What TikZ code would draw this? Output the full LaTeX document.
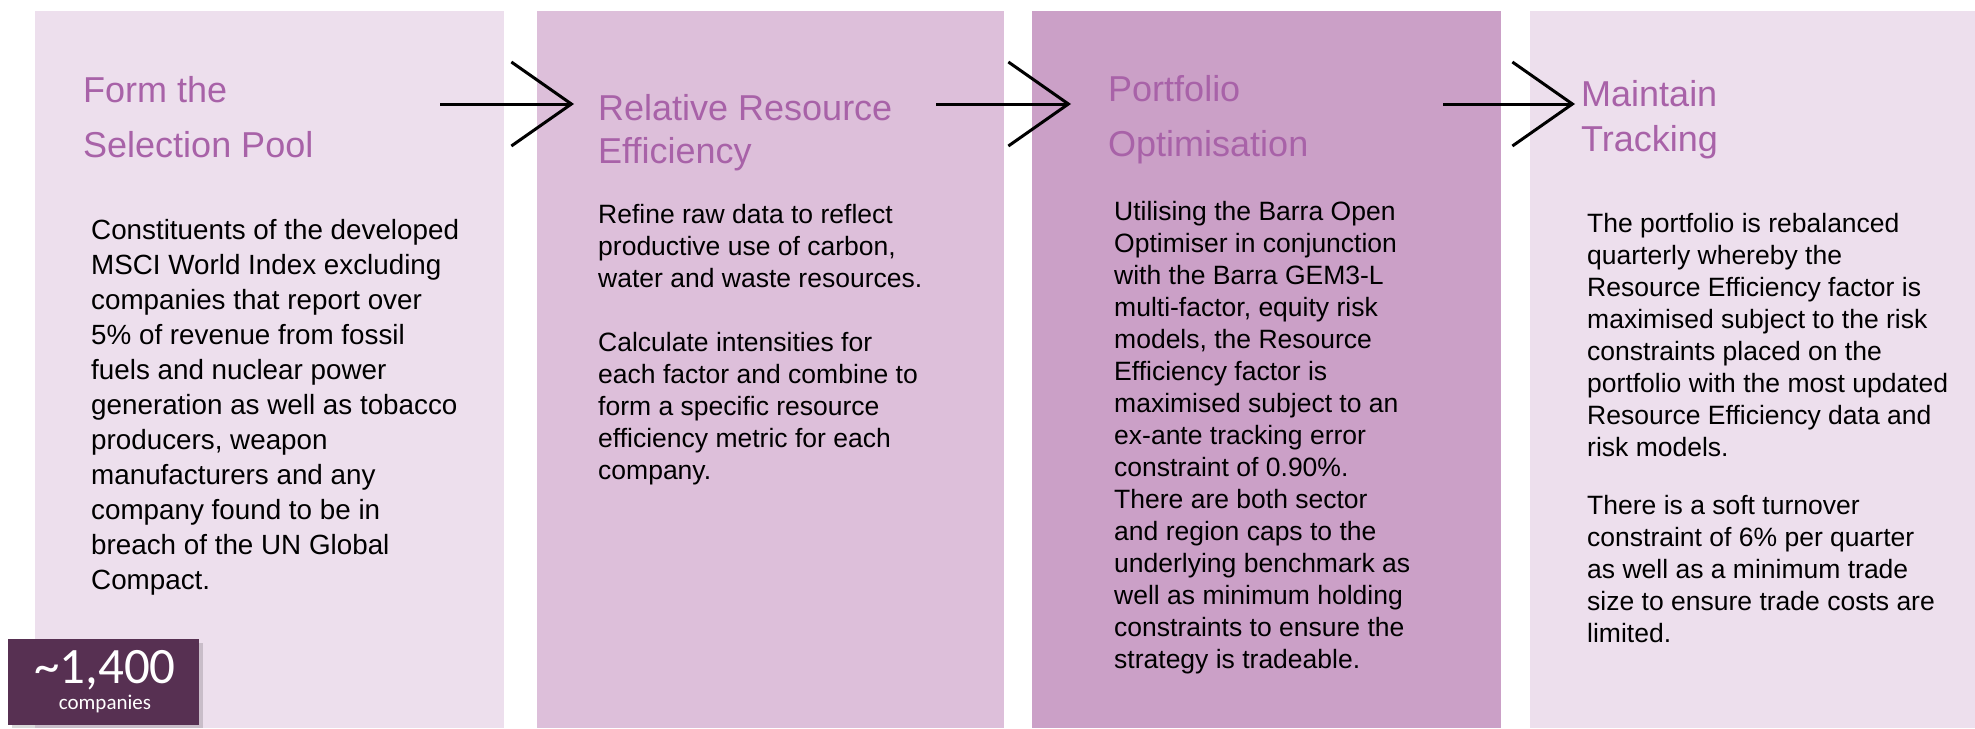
\documentclass[tikz,border=0pt]{standalone}
\usepackage{fontspec}
\setmainfont{Liberation Sans}
\newfontfamily\badgefont{Carlito}
\usetikzlibrary{arrows.meta}
\definecolor{pale}{HTML}{EDDFED}
\definecolor{mid}{HTML}{DDBFDA}
\definecolor{deep}{HTML}{CBA0C7}
\definecolor{ttl}{HTML}{A862A8}
\definecolor{plum}{HTML}{573052}
\tikzset{
  panel/.style={rectangle, draw=none, inner sep=0pt, outer sep=0pt, anchor=north west, minimum height=717pt},
  ttlA/.style={anchor=base west, inner sep=0pt, align=left, text=ttl, font=\fontsize{36}{55}\selectfont},
  ttlB/.style={anchor=base west, inner sep=0pt, align=left, text=ttl, font=\fontsize{36}{43}\selectfont},
  ttlC/.style={anchor=base west, inner sep=0pt, align=left, text=ttl, font=\fontsize{36}{45}\selectfont},
  body/.style={anchor=base west, inner sep=0pt, align=left, text=black, font=\fontsize{26.5}{32}\selectfont},
  bodywide/.style={anchor=base west, inner sep=0pt, align=left, text=black, font=\fontsize{27.8}{35}\selectfont},
  flow/.style={line width=3pt, draw=black, -{Straight Barb[length=60pt, width=84pt, line width=3pt]}}
}
\begin{document}
\begin{tikzpicture}[x=1pt, y=-1pt]
\useasboundingbox (0,0) rectangle (1975,728);
\fill[white] (0,0) rectangle (1975,728);
% panels
\node[panel, fill=pale, minimum width=469pt] (p1) at (35,11) {};
\node[panel, fill=mid,  minimum width=467pt] (p2) at (537,11) {};
\node[panel, fill=deep, minimum width=469pt] (p3) at (1032,11) {};
\node[panel, fill=pale, minimum width=445pt] (p4) at (1530,11) {};
% titles (anchored at the baseline of their last line)
\node[ttlA] (t1) at (83,157) {Form the\\Selection Pool};
\node[ttlB] (t2) at (598,163) {Relative Resource\\Efficiency};
\node[ttlA] (t3) at (1108,156) {Portfolio\\Optimisation};
\node[ttlC] (t4) at (1581,151) {Maintain\\Tracking};
% bodies (anchored at the baseline of their last line)
\node[bodywide] (b1) at (91,589) {Constituents of the developed\\MSCI World Index excluding\\companies that report over\\5\% of revenue from fossil\\fuels and nuclear power\\generation as well as tobacco\\producers, weapon\\manufacturers and any\\company found to be in\\breach of the UN Global\\Compact.};
\node[body] (b2) at (598,479) {Refine raw data to reflect\\productive use of carbon,\\water and waste resources.\\[32pt]Calculate intensities for\\each factor and combine to\\form a specific resource\\efficiency metric for each\\company.};
\node[body] (b3) at (1114,668) {Utilising the Barra Open\\Optimiser in conjunction\\with the Barra GEM3-L\\multi-factor, equity risk\\models, the Resource\\Efficiency factor is\\maximised subject to an\\ex-ante tracking error\\constraint of 0.90\%.\\There are both sector\\and region caps to the\\underlying benchmark as\\well as minimum holding\\constraints to ensure the\\strategy is tradeable.};
\node[body] (b4) at (1587,642) {The portfolio is rebalanced\\quarterly whereby the\\Resource Efficiency factor is\\maximised subject to the risk\\constraints placed on the\\portfolio with the most updated\\Resource Efficiency data and\\risk models.\\[26pt]There is a soft turnover\\constraint of 6\% per quarter\\as well as a minimum trade\\size to ensure trade costs are\\limited.};
% arrows
\coordinate (a1s) at (440,104); \coordinate (a1e) at (574,104);
\coordinate (a2s) at (936,104); \coordinate (a2e) at (1071,104);
\coordinate (a3s) at (1443,104); \coordinate (a3e) at (1575,104);
\draw[flow] (a1s) -- (a1e);
\draw[flow] (a2s) -- (a2e);
\draw[flow] (a3s) -- (a3e);
% badge
\fill[black, opacity=0.15] (12,643) rectangle (203,728);
\node[rectangle, fill=plum, inner sep=0pt, outer sep=0pt, anchor=north west, minimum width=191pt, minimum height=86pt] (badge) at (8,639) {};
\node[anchor=base, inner sep=0pt, text=white, font=\badgefont\fontsize{51}{51}\selectfont] (num) at (105,683) {\textasciitilde 1,400};
\node[anchor=base, inner sep=0pt, text=white, font=\badgefont\fontsize{21}{21}\selectfont] (cmp) at (105,709) {companies};
\end{tikzpicture}
\end{document}
